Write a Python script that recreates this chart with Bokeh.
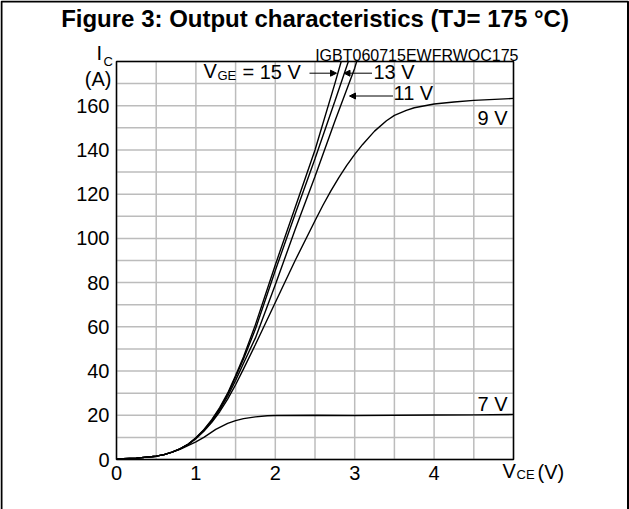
from bokeh.plotting import figure
from bokeh.models import Range1d, FixedTicker, Label, Arrow, NormalHead, BoxAnnotation
from bokeh.embed import file_html
from bokeh.resources import INLINE

# ---------------- data ----------------
X_TICKS = [0, 1, 2, 3, 4]
Y_TICKS = [0, 20, 40, 60, 80, 100, 120, 140, 160]
X_GRID = [0, 0.5, 1, 1.5, 2, 2.5, 3, 3.5, 4, 4.5, 5]
Y_GRID = [0, 10, 20, 30, 40, 50, 60, 70, 80, 90, 100, 110, 120, 130, 140, 150, 160, 170, 180]

V15 = [0, 0.25, 0.5, 0.6, 0.7, 0.8, 0.9, 1.0, 1.1, 1.2, 1.3, 1.4, 1.5, 1.6, 1.75, 2.0, 2.25, 2.5, 2.75, 2.83]
I15 = [0.3, 0.6, 1.5, 2.2, 3.3, 4.8, 6.9, 9.8, 13.5, 18, 23.5, 30, 38, 46.5, 61, 88, 114, 140, 170, 180]

V13 = [0, 0.25, 0.5, 0.6, 0.7, 0.8, 0.9, 1.0, 1.1, 1.2, 1.3, 1.4, 1.5, 1.6, 1.75, 2.0, 2.25, 2.5, 2.75, 2.92]
I13 = [0.3, 0.6, 1.5, 2.2, 3.3, 4.8, 6.9, 9.7, 13.3, 17.7, 23, 29.5, 37.3, 45.5, 59, 85.5, 111, 136, 162, 180]

V11 = [0, 0.25, 0.5, 0.6, 0.7, 0.8, 0.9, 1.0, 1.1, 1.2, 1.3, 1.4, 1.5, 1.6, 1.75, 2.0, 2.25, 2.5, 2.75, 3.0, 3.025]
I11 = [0.3, 0.6, 1.5, 2.2, 3.3, 4.8, 6.8, 9.6, 13.1, 17.3, 22.4, 28.6, 35.8, 43.5, 55, 79, 104, 128, 153, 177, 180]

V9 = [0, 0.25, 0.5, 0.6, 0.7, 0.8, 0.9, 1.0, 1.1, 1.2, 1.3, 1.4, 1.5, 1.6, 1.75, 2.0, 2.25, 2.5, 2.6, 2.7,
      2.8, 2.9, 3.0, 3.1, 3.25, 3.4, 3.5, 3.65, 3.75, 4.0, 4.25, 4.5, 5.0]
I9 = [0.3, 0.6, 1.5, 2.2, 3.3, 4.8, 6.7, 9.4, 12.8, 16.8, 21.6, 27.3, 33.8, 41, 52, 71, 90, 108, 115, 121.5,
      127.5, 133, 138, 142.5, 148.5, 153.2, 155.6, 157.9, 159.1, 160.8, 161.7, 162.4, 163.3]

V7 = [0, 0.25, 0.5, 0.6, 0.7, 0.8, 0.9, 1.0, 1.1, 1.25, 1.4, 1.5, 1.6, 1.75, 1.9, 2.0, 2.5, 3.0, 3.5, 4.0, 4.5, 5.0]
I7 = [0.3, 0.6, 1.5, 2.2, 3.3, 4.6, 6.3, 8.0, 10.0, 13.6, 16.3, 17.6, 18.5, 19.3, 19.8, 19.9, 20.0, 19.9, 20.0, 20.1, 20.2, 20.4]

# ---------------- layout ----------------
W, H = 629, 509
FL, FR, FT, FB = 116, 513, 61, 459      # plot area in pixels
XMAX, YMAX = 5, 180
FONT = "Liberation Sans"


def px2x(px):
    return (px - FL) * XMAX / (FR - FL)


def px2y(py):
    return (FB - py) * YMAX / (FB - FT)


p = figure(width=W, height=H,
           x_range=Range1d(px2x(0), px2x(W)), y_range=Range1d(px2y(H), px2y(0)),
           output_backend="svg", toolbar_location=None,
           min_border_left=0, min_border_right=0, min_border_top=0, min_border_bottom=0)
p.background_fill_color = "white"
p.border_fill_color = "white"
p.outline_line_color = None
p.xgrid.visible = False
p.ygrid.visible = False

# axes drawn at the data origin
p.xaxis.fixed_location = 0
p.yaxis.fixed_location = 0
p.xaxis.bounds = (0, XMAX)
p.yaxis.bounds = (0, YMAX)
for ax in (p.xaxis, p.yaxis):
    ax.axis_line_color = None
    ax.major_tick_line_color = None
    ax.minor_tick_line_color = None
    ax.major_label_text_font = FONT
    ax.major_label_text_font_size = "20px"
    ax.major_label_text_color = "black"
p.xaxis.ticker = FixedTicker(ticks=X_TICKS)
p.yaxis.ticker = FixedTicker(ticks=Y_TICKS)
p.xaxis.major_label_standoff = 0
p.yaxis.major_label_standoff = 1

# grid
GRID = "#bcbcbc"
p.segment(x0=X_GRID, y0=[0] * len(X_GRID), x1=X_GRID, y1=[YMAX] * len(X_GRID),
          line_color=GRID, line_width=1.5)
p.segment(x0=[0] * len(Y_GRID), y0=Y_GRID, x1=[XMAX] * len(Y_GRID), y1=Y_GRID,
          line_color=GRID, line_width=1.5)
# plot frame
p.quad(left=[0], right=[XMAX], bottom=[0], top=[YMAX], fill_alpha=0,
       line_color="black", line_width=1.5)

for vs, cs in ((V7, I7), (V9, I9), (V11, I11), (V13, I13), (V15, I15)):
    p.line(vs, cs, line_color="black", line_width=1.4)


def lab(x, y, text, size="20px", align="left", style="normal"):
    p.add_layout(Label(x=px2x(x), y=px2y(y), text=text, text_font=FONT,
                       text_font_size=size, text_align=align, text_baseline="middle",
                       text_font_style=style, text_color="black"))


# title
lab(314.5, 18, "Figure 3: Output characteristics (TJ= 175 \u00b0C)", size="24px",
    align="center", style="bold")
# y label
lab(96, 52, "I", size="20px")
lab(103, 61, "C", size="13px")
lab(111, 78, "(A)", size="20px", align="right")
# x label
lab(502, 470, "V", size="20px")
lab(516, 474, "CE", size="13px")
lab(537, 471, "(V)", size="20px")
# code
lab(518, 54.5, "IGBT060715EWFRWOC175", size="16px", align="right")
# curve labels
lab(203, 70, "V", size="20px")
lab(217, 75, "GE", size="13px")
lab(242, 71, "= 15 V", size="20px")
lab(373, 71.5, "13 V", size="20px")
lab(393, 92, "11 V", size="20px")
lab(507, 117.5, "9 V", size="20px", align="right")
lab(507, 403, "7 V", size="20px", align="right")

for xs, xe, yy in ((309, 336, 72.7), (371.5, 343.5, 72.7), (392.5, 349, 95.5)):
    p.add_layout(Arrow(end=NormalHead(size=6, fill_color="black", line_color="black", line_width=1),
                       x_start=px2x(xs), y_start=px2y(yy), x_end=px2x(xe), y_end=px2y(yy),
                       line_color="black", line_width=1))

# outer frame of the figure box (open at the bottom)
p.add_layout(BoxAnnotation(left=px2x(1), right=px2x(627.5), top=px2y(1), bottom=px2y(530),
                           fill_alpha=0, line_color="black", line_width=2, line_alpha=1))

open("out.html", "w").write(file_html(p, INLINE))
